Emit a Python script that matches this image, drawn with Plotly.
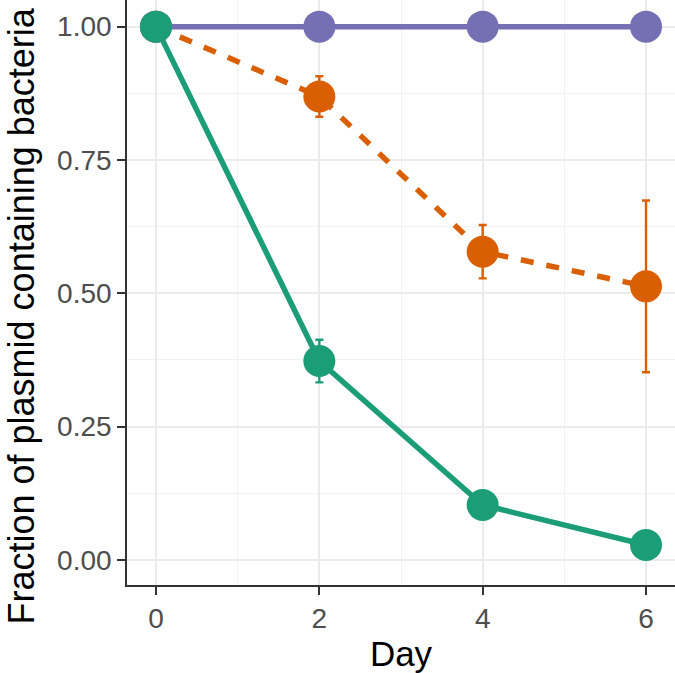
import plotly.graph_objects as go

days = [0, 2, 4, 6]
constant_vals = [1.0, 1.0, 1.0, 1.0]
orange_vals = [1.0, 0.869, 0.578, 0.513]
orange_err = [0.0, 0.038, 0.05, 0.161]
green_vals = [1.0, 0.373, 0.103, 0.028]
green_err = [0.0, 0.04, 0.0, 0.0]
y_title = "Fraction of plasmid containing bacteria"
x_title = "Day"

purple = "#7570B3"
orange = "#D95F02"
green = "#1B9E77"

fig = go.Figure()
# lines first
fig.add_trace(go.Scatter(x=days, y=orange_vals, mode="lines",
                         line=dict(color=orange, width=5.5, dash="13px,13px"), showlegend=False))
fig.add_trace(go.Scatter(x=days, y=constant_vals, mode="lines",
                         line=dict(color=purple, width=5.5), showlegend=False))
fig.add_trace(go.Scatter(x=days, y=green_vals, mode="lines",
                         line=dict(color=green, width=5.5), showlegend=False))
# points with error bars
for vals, err, col in [(orange_vals, orange_err, orange),
                       (constant_vals, [0, 0, 0, 0], purple),
                       (green_vals, green_err, green)]:
    fig.add_trace(go.Scatter(x=days, y=vals, mode="markers",
                             marker=dict(color=col, size=32, line=dict(width=0)),
                             error_y=dict(type="data", array=err, visible=True,
                                          color=col, thickness=2.4, width=4),
                             showlegend=False))

font_family = "Liberation Sans, Arial"
axis_common = dict(
    showline=True, linecolor="#333333", linewidth=1.6, mirror=True,
    showgrid=True, gridcolor="#EBEBEB", gridwidth=2.2,
    ticks="outside", ticklen=8, tickwidth=2.2, tickcolor="#333333",
    tickfont=dict(family=font_family, size=28, color="#4D4D4D"),
    zeroline=False,
)

fig.update_xaxes(
    range=[-0.355, 6.355], tickvals=[0, 2, 4, 6], ticktext=["0", "2", "4", "6"],
    minor=dict(tickvals=[1, 3, 5], showgrid=True, gridcolor="#F2F2F2", gridwidth=1.2, ticks=""),
    title=dict(text=x_title, font=dict(family=font_family, size=35, color="black"), standoff=8),
    **axis_common,
)
fig.update_yaxes(
    range=[-0.047, 1.05], tickvals=[0, 0.25, 0.5, 0.75, 1.0],
    ticktext=["0.00", "0.25", "0.50", "0.75", "1.00"],
    minor=dict(tickvals=[0.125, 0.375, 0.625, 0.875], showgrid=True, gridcolor="#F2F2F2", gridwidth=1.2, ticks=""),
    **axis_common,
)

plot_w = 675 - 127
plot_h = 673 - 88
fig.add_annotation(
    text=y_title, textangle=-90, showarrow=False,
    xref="paper", yref="paper",
    x=-128 / plot_w, xanchor="left",
    y=(plot_h - 316) / plot_h, yanchor="middle",
    borderpad=0,
    font=dict(family=font_family, size=36, color="black"),
)

fig.update_layout(
    width=675, height=673,
    margin=dict(l=127, r=0, t=0, b=88, autoexpand=False),
    paper_bgcolor="white", plot_bgcolor="white",
    showlegend=False,
)

fig.write_html("out.html", config={"displayModeBar": False},
               post_script="document.body.style.margin='0';")
